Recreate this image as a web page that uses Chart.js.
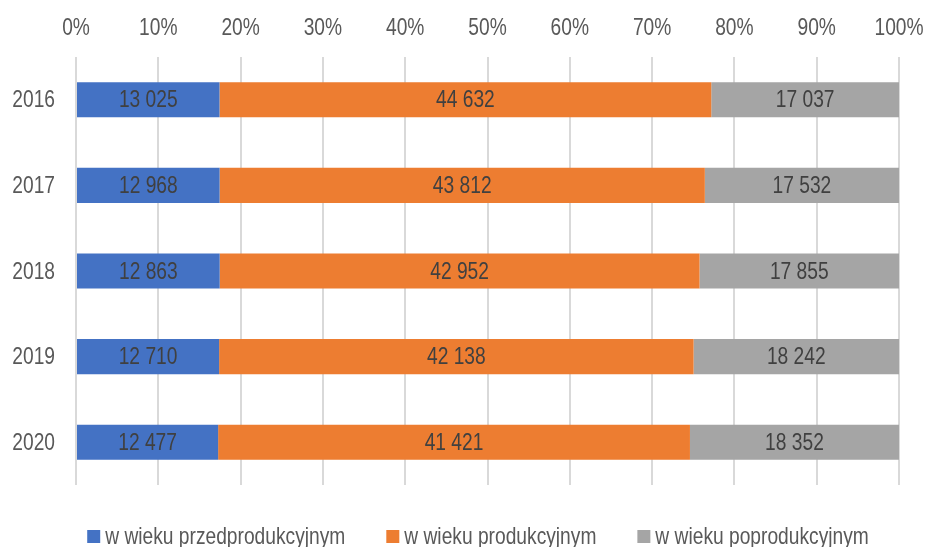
<!DOCTYPE html>
<html>
<head>
<meta charset="utf-8">
<script src="https://cdn.jsdelivr.net/npm/chart.js@4"></script>
<style>
    html, body { margin: 0; padding: 0; background: #ffffff; }
    #wrap { width: 928px; height: 547px; position: relative; }
</style>
</head>
<body>
<div id="wrap"><canvas id="ageChart"></canvas></div>
<script>
// categories and series values
const years = ['2016', '2017', '2018', '2019', '2020'];
const preWorking = [13025, 12968, 12863, 12710, 12477];
const working = [44632, 43812, 42952, 42138, 41421];
const postWorking = [17037, 17532, 17855, 18242, 18352];
const seriesNames = ['w wieku przedprodukcyjnym', 'w wieku produkcyjnym', 'w wieku poprodukcyjnym'];
const seriesColors = ['#4472C4', '#ED7D31', '#A5A5A5'];
const xTicks = [0, 10, 20, 30, 40, 50, 60, 70, 80, 90, 100];

// no narrow font installed, so text is squeezed horizontally by hand
const FONT = "24px 'Liberation Sans', Arial, sans-serif";
const SQUEEZE = 0.8;

const rawSeries = [preWorking, working, postWorking];

function formatNumber(n) {
    return String(n).replace(/\B(?=(\d{3})+(?!\d))/g, ' ');
}

// share of each group in the year total, so bars fill 100%
function toShare(values) {
    return values.map((v, i) => 100 * v / (preWorking[i] + working[i] + postWorking[i]));
}

function narrowText(ctx, text, x, y, align) {
    ctx.save();
    ctx.translate(x, y);
    ctx.scale(SQUEEZE, 1);
    ctx.textAlign = align;
    ctx.fillText(text, 0, 0);
    ctx.restore();
}

function narrowWidth(ctx, text) {
    return ctx.measureText(text).width * SQUEEZE;
}

const textLayer = {
    id: 'textLayer',
    afterDatasetsDraw(chart) {
        const ctx = chart.ctx;
        const xScale = chart.scales.x;
        const yScale = chart.scales.y;
        ctx.save();
        ctx.font = FONT;
        ctx.textBaseline = 'middle';

        // percent ticks above the plot
        ctx.fillStyle = '#595959';
        xTicks.forEach(v => {
            narrowText(ctx, v + '%', xScale.getPixelForValue(v), 28, 'center');
        });

        // year labels
        years.forEach((y, i) => {
            narrowText(ctx, y, 55, yScale.getPixelForValue(i) + 1, 'right');
        });

        // values inside the segments
        ctx.fillStyle = '#404040';
        chart.data.datasets.forEach((ds, di) => {
            chart.getDatasetMeta(di).data.forEach((bar, i) => {
                narrowText(ctx, formatNumber(rawSeries[di][i]), (bar.x + bar.base) / 2, bar.y + 1, 'center');
            });
        });

        // legend at the bottom
        const box = 13, gapText = 5, gapItem = 41;
        const widths = seriesNames.map(n => narrowWidth(ctx, n));
        const total = widths.reduce((a, w) => a + box + gapText + w, 0) + gapItem * (seriesNames.length - 1);
        let lx = 478 - total / 2;
        const ly = 536;
        seriesNames.forEach((name, i) => {
            ctx.fillStyle = seriesColors[i];
            ctx.fillRect(lx, ly - 6, box, box);
            ctx.fillStyle = '#595959';
            narrowText(ctx, name, lx + box + gapText, ly + 1, 'left');
            lx += box + gapText + widths[i] + gapItem;
        });
        ctx.restore();
    }
};

document.addEventListener('DOMContentLoaded', function() {
    new Chart(document.getElementById('ageChart'), {
        type: 'bar',
        data: {
            labels: years,
            datasets: rawSeries.map((values, i) => ({
                label: seriesNames[i],
                data: toShare(values),
                backgroundColor: seriesColors[i],
                borderWidth: 0,
                barPercentage: 0.82,
                categoryPercentage: 0.5
            }))
        },
        options: {
            indexAxis: 'y',
            responsive: true,
            maintainAspectRatio: false,
            animation: false,
            layout: { padding: { left: 68, right: 29, top: 57, bottom: 62 } },
            plugins: {
                tooltip: { enabled: false },
                legend: { display: false }
            },
            scales: {
                x: {
                    position: 'top',
                    stacked: true,
                    min: 0,
                    max: 100,
                    afterBuildTicks(axis) {
                        axis.ticks = xTicks.map(v => ({ value: v }));
                    },
                    ticks: { display: false },
                    grid: { color: '#d9d9d9', lineWidth: 2, drawTicks: false },
                    border: { display: false }
                },
                y: {
                    stacked: true,
                    ticks: { display: false },
                    grid: { display: false },
                    border: { display: false }
                }
            }
        },
        plugins: [textLayer]
    });
});
</script>
</body>
</html>
